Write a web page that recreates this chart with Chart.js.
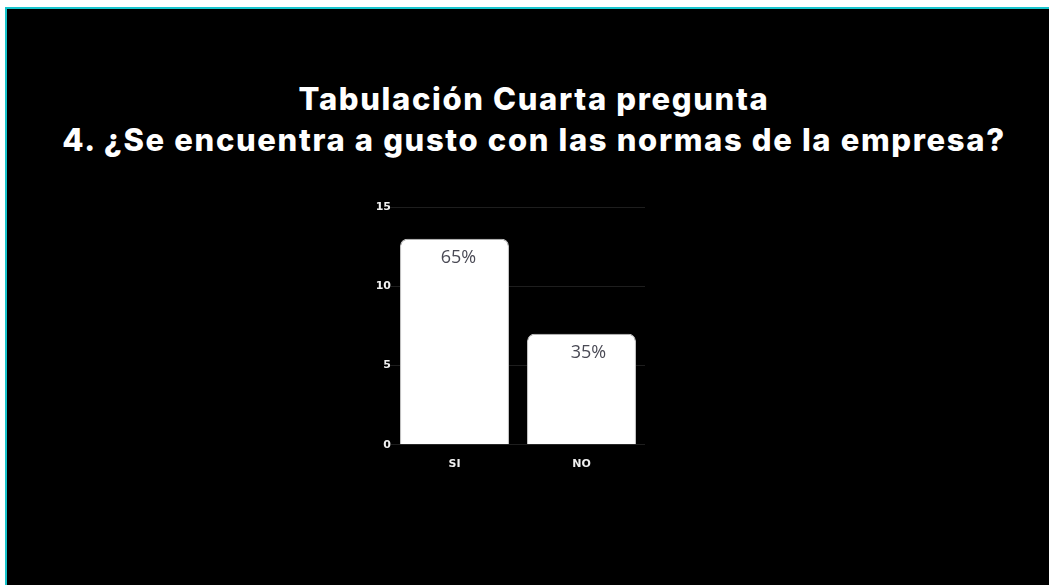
<!DOCTYPE html>
<html>
<head>
<meta charset="utf-8">
<script src="https://cdn.jsdelivr.net/npm/chart.js@4"></script>
<style>
  html, body { margin: 0; padding: 0; background: #fff; overflow: hidden; }
  #slide {
    position: absolute; left: 5px; top: 7px; width: 1100px; height: 620px;
    background: #000; border-left: 2px solid #17c4cc; border-top: 2px solid #17c4cc;
  }
  #titulo {
    position: absolute; left: 0; top: 78px; width: 1068px; text-align: center;
    color: #fff; font-family: Inter, sans-serif; font-weight: 800;
    font-size: 31px; line-height: 41px; letter-spacing: 1.65px;
  }
  #caja { position: absolute; left: 355px; top: 198px; width: 290px; height: 286px; }
</style>
</head>
<body>
<div id="slide"></div>
<div id="titulo">Tabulación Cuarta pregunta<br>4. ¿Se encuentra a gusto con las normas de la empresa?</div>
<div id="caja"><canvas id="grafico"></canvas></div>
<script>
// respuestas de la cuarta pregunta
var categorias = ['SI', 'NO'];
var respuestas = [13, 7];
var marcasEje = [0, 5, 10, 15];

var total = respuestas.reduce(function(a, b) { return a + b; }, 0);

// porcentaje escrito dentro de cada barra
var etiquetasPorcentaje = {
    id: 'etiquetasPorcentaje',
    afterDatasetsDraw: function(chart) {
        var ctx = chart.ctx;
        var meta = chart.getDatasetMeta(0);
        ctx.save();
        ctx.font = '18px "Open Sans", sans-serif';
        ctx.fillStyle = '#4a4a55';
        ctx.textAlign = 'center';
        ctx.textBaseline = 'middle';
        meta.data.forEach(function(bar, i) {
            var texto = Math.round(respuestas[i] / total * 100) + '%';
            ctx.fillText(texto, bar.x + 4 + i * 3, bar.y + 19);
        });
        ctx.restore();
    }
};

new Chart(document.getElementById('grafico'), {
    type: 'bar',
    data: {
        labels: categorias,
        datasets: [{
            data: respuestas,
            backgroundColor: '#ffffff',
            borderColor: '#c4c4c4',
            borderWidth: 1,
            borderRadius: { topLeft: 7, topRight: 7, bottomLeft: 0, bottomRight: 0 },
            borderSkipped: 'bottom',
            categoryPercentage: 1,
            barPercentage: 0.858
        }]
    },
    options: {
        responsive: true,
        maintainAspectRatio: false,
        animation: false,
        layout: { padding: { top: 9, right: 0 } },
        plugins: {
            legend: { display: false },
            tooltip: { enabled: false }
        },
        scales: {
            x: {
                grid: { display: false, drawTicks: false },
                border: { display: false },
                ticks: {
                    color: '#f0f0f0',
                    padding: 13,
                    font: { family: 'DejaVu Sans', size: 11, weight: 'bold' }
                }
            },
            y: {
                min: 0,
                max: 15,
                afterBuildTicks: function(axis) {
                    axis.ticks = marcasEje.map(function(v) { return { value: v }; });
                },
                afterFit: function(axis) { axis.width = 36; },
                grid: { color: '#1e1e1e', drawTicks: false },
                border: { display: false },
                ticks: {
                    color: '#f0f0f0',
                    padding: 0,
                    font: { family: 'DejaVu Sans', size: 11, weight: 'bold' }
                }
            }
        }
    },
    plugins: [etiquetasPorcentaje]
});
</script>
</body>
</html>
